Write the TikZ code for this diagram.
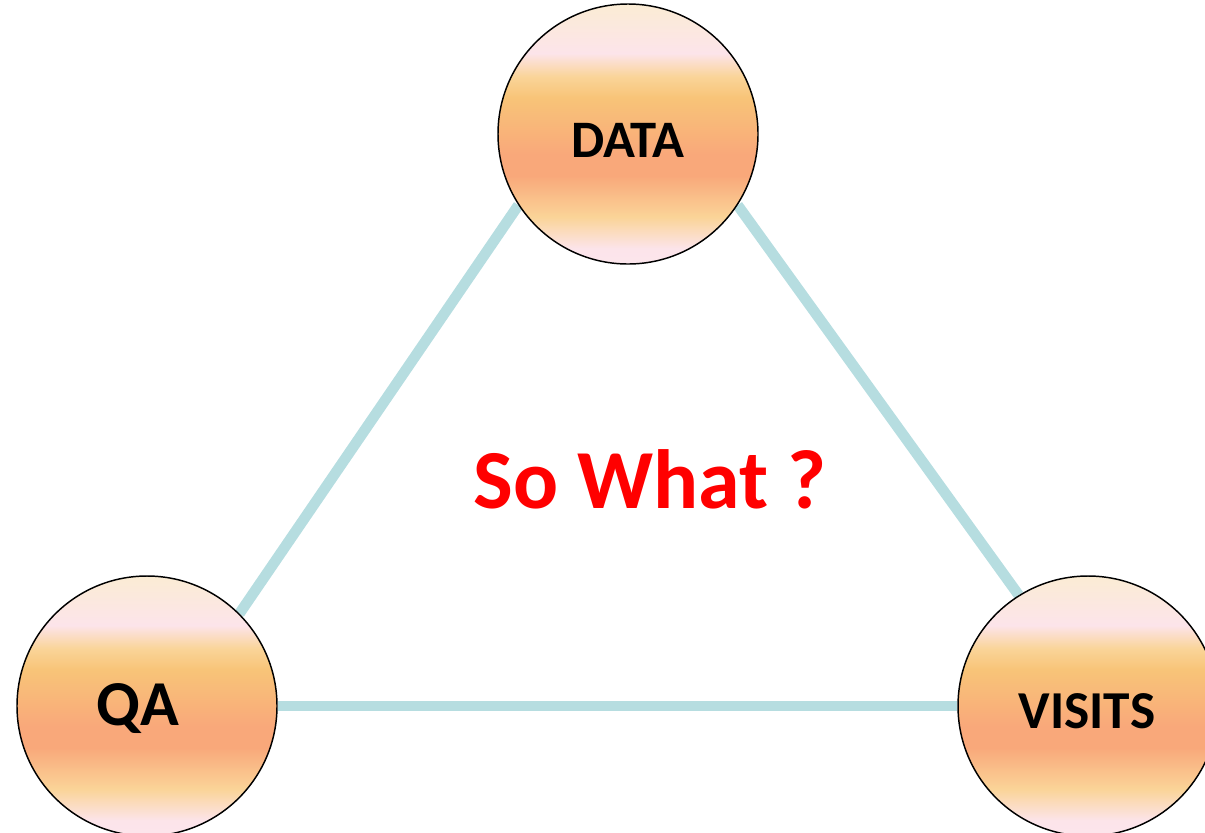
\documentclass[tikz,border=0pt]{standalone}
\usepackage{fontspec}
\setmainfont{Carlito}
\usetikzlibrary{backgrounds}

\definecolor{linkblue}{RGB}{182,221,224}
\definecolor{sowhatred}{RGB}{255,0,0}
\definecolor{peachpink}{RGB}{252,229,236}
\definecolor{peachcream}{RGB}{251,236,212}
\definecolor{peachlight}{RGB}{250,212,152}
\definecolor{peachsalmon}{RGB}{249,168,122}
\definecolor{peachgold}{RGB}{248,196,120}
\definecolor{peachrose}{RGB}{252,228,234}

\pgfdeclareverticalshading{peachglow}{100bp}{color(0bp)=(peachpink); color(25bp)=(peachpink); color(28bp)=(peachrose); color(34bp)=(peachlight); color(42bp)=(peachsalmon); color(46bp)=(peachsalmon); color(57bp)=(peachgold); color(61bp)=(peachlight); color(65.5bp)=(peachrose); color(75bp)=(peachcream); color(100bp)=(peachcream)}

\tikzset{every picture/.style={line width=0.75pt}}
\tikzset{
  bubble/.style={circle, draw=black, line width=1.1pt, shading=peachglow, minimum size=195pt, inner sep=0pt},
  link/.style={draw=linkblue, line width=8pt},
  bubbletext/.style={anchor=base, inner sep=0.75pt, font=\bfseries},
}

\begin{document}
\begin{tikzpicture}[x=0.75pt,y=0.75pt,yscale=-1,xscale=1]
\useasboundingbox (0,0) rectangle (1205,832);
\clip (0,0) rectangle (1205,832);

% circles
\node[bubble] (data) at (628,134) {};
\node[bubble] (qa) at (147,706) {};
\node[bubble] (visits) at (1088,706) {};

% connectors
\begin{scope}[on background layer]
\draw[link] (data.213) -- (qa.45);
\draw[link] (data.327) -- (visits.122);
\draw[link] (qa.east) -- (visits.west);
\end{scope}

% Text Node
\node[bubbletext, font=\bfseries\fontsize{39.5}{42}\selectfont] (datalabel) at (628,157) {DATA};
% Text Node
\node[bubbletext, font=\bfseries\fontsize{48}{52}\selectfont] (qalabel) at (138,725) {QA};
% Text Node
\node[bubbletext, font=\bfseries\fontsize{40}{44}\selectfont] (visitslabel) at (1087,728) {VISITS};
% Text Node
\node[bubbletext, text=sowhatred, font=\bfseries\fontsize{63}{68}\selectfont] (sowhat) at (650,508) {So What ?};

\end{tikzpicture}
\end{document}
